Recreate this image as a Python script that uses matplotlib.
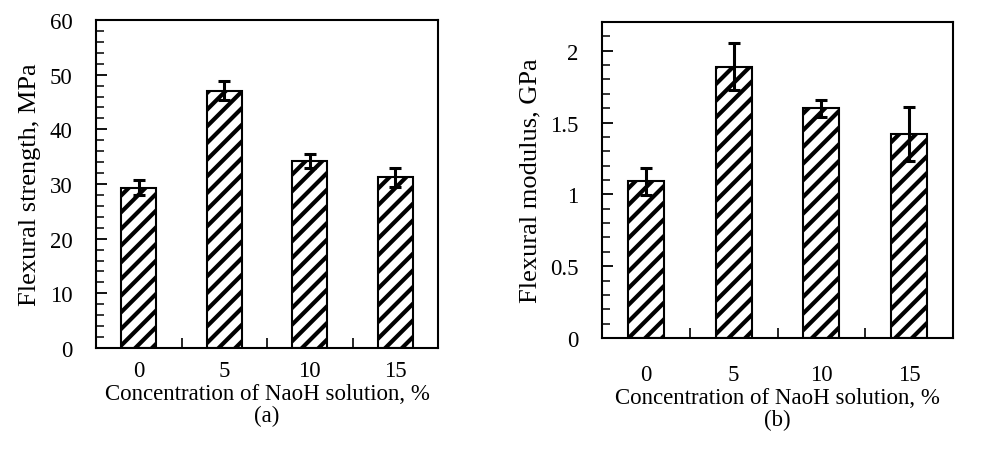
import numpy as np
import matplotlib.pyplot as plt
from matplotlib.ticker import MultipleLocator, FuncFormatter

plt.rcParams['font.family'] = ['Liberation Serif', 'DejaVu Serif']
plt.rcParams['hatch.linewidth'] = 3.0

conc = ["0", "5", "10", "15"]
strength = [29.3, 47.1, 34.2, 31.2]
strength_err = [1.4, 1.8, 1.3, 1.8]
modulus = [1.09, 1.89, 1.60, 1.42]
modulus_err = [0.095, 0.165, 0.06, 0.19]

FS = 16.5

fig = plt.figure(figsize=(9.92, 4.6), dpi=100)
ax1 = fig.add_axes([96 / 992, 111 / 460, 342 / 992, 328 / 460])
ax2 = fig.add_axes([602 / 992, 121 / 460, 351 / 992, 316 / 460])


def draw(ax, vals, errs, ymax, major, minor, ylabel, tag, xpad, fmt):
    x = np.arange(len(vals))
    ax.bar(x, vals, width=0.41, color="white", edgecolor="black",
           linewidth=1.5, hatch="//", zorder=2)
    ax.errorbar(x, vals, yerr=errs, fmt="none", ecolor="black",
                elinewidth=2.2, capsize=4.5, capthick=2.2, zorder=3)
    ax.set_xlim(-0.5, len(vals) - 0.5)
    ax.set_ylim(0, ymax)
    ax.yaxis.set_major_locator(MultipleLocator(major))
    ax.yaxis.set_minor_locator(MultipleLocator(minor))
    ax.yaxis.set_major_formatter(FuncFormatter(fmt))
    # category separators as inward ticks, labels at centres
    ax.set_xticks(x[:-1] + 0.5)
    ax.set_xticklabels([])
    ax.set_xticks(x, minor=True)
    ax.set_xticklabels(conc, minor=True)
    ax.tick_params(axis="x", which="major", direction="in", length=7,
                   width=1.2)
    ax.tick_params(axis="x", which="minor", length=0, pad=xpad,
                   labelsize=FS)
    ax.tick_params(axis="y", which="major", direction="in", length=8,
                   width=1.3, pad=17, labelsize=FS)
    ax.tick_params(axis="y", which="minor", direction="in", length=6,
                   width=1.1)
    for s in ax.spines.values():
        s.set_linewidth(1.5)
    ax.set_ylabel(ylabel, fontsize=19, labelpad=6)
    ax.set_xlabel("Concentration of NaoH solution, %\n" + tag,
                  fontsize=FS, linespacing=1.05, labelpad=1)


draw(ax1, strength, strength_err, 60, 10, 2, "Flexural strength, MPa", "(a)",
     9, lambda v, p: f"{v:g}")
draw(ax2, modulus, modulus_err, 2.2, 0.5, 0.1, "Flexural modulus, GPa", "(b)",
     19, lambda v, p: f"{v:g}")

fig.savefig("out.png", dpi=100)
